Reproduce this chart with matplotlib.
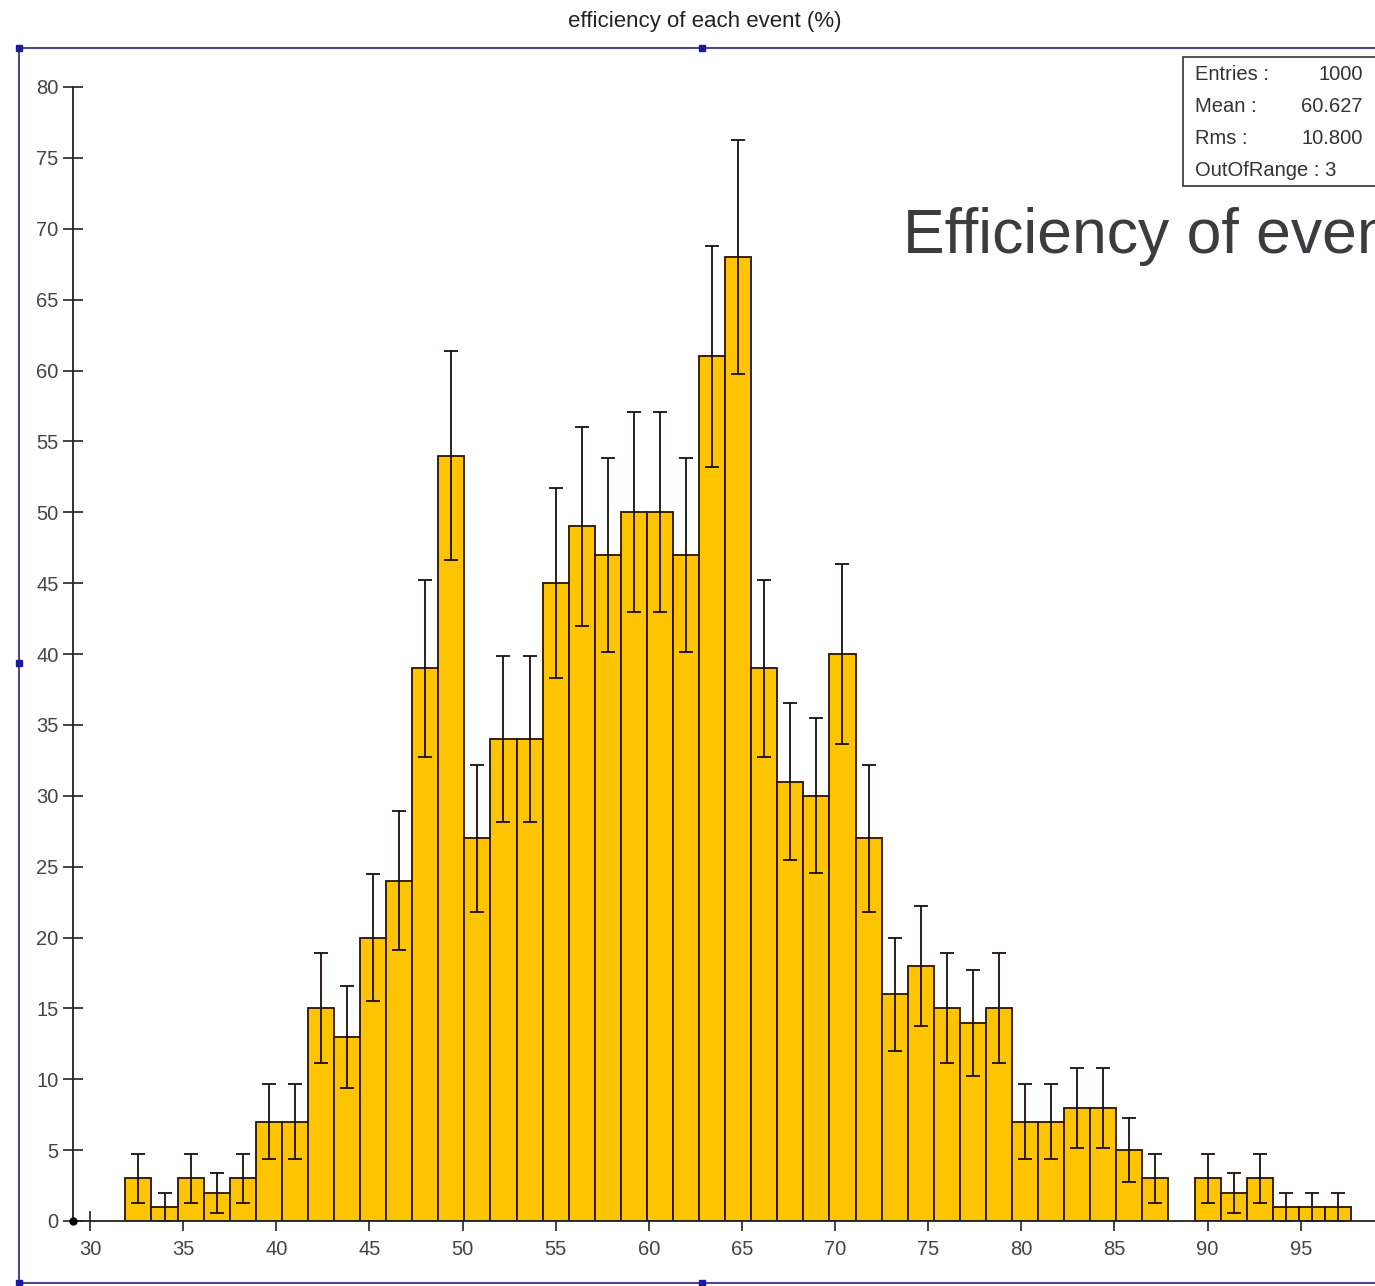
import numpy as np
import matplotlib
matplotlib.use("Agg")
import matplotlib.pyplot as plt
from matplotlib.lines import Line2D
from matplotlib.patches import Rectangle

plt.rcParams["font.family"] = ["Liberation Sans", "DejaVu Sans"]

# histogram contents (bins of 1.4 starting at 31.9)
bin_start = 31.9
bin_width = 1.4
counts = [3, 1, 3, 2, 3, 7, 7, 15, 13, 20, 24, 39, 54, 27, 34, 34, 45, 49,
          47, 50, 50, 47, 61, 68, 39, 31, 30, 40, 27, 16, 18, 15, 14, 15,
          7, 7, 8, 8, 5, 3, 0, 3, 2, 3, 1, 1, 1]
x_ticks = [30, 35, 40, 45, 50, 55, 60, 65, 70, 75, 80, 85, 90, 95]
y_ticks = list(range(0, 85, 5))
stats_names = ["Entries :", "Mean :", "Rms :", "OutOfRange : 3"]
stats_values = ["1000", "60.627", "10.800", ""]

W, H = 1375, 1286
fig = plt.figure(figsize=(W / 100, H / 100), dpi=100)

def fx(px):
    return px / W

def fy(py):
    return 1 - py / H

# axes box: y axis at x=73px, y=0 at 1221px, y=80 at 87px
ax = fig.add_axes([fx(73), fy(1221), fx(W - 73), (1221 - 87) / H])
ax.set_xlim(30 - 17 / 18.626, 30 + (W - 90) / 18.626)
ax.set_ylim(0, 80)
ax.set_axisbelow(True)

counts = np.array(counts)
edges = bin_start + bin_width * np.arange(len(counts) + 1)
left = edges[:-1]
centers = left + bin_width / 2
keep = counts > 0

ax.bar(left[keep], counts[keep], width=bin_width, align="edge",
       color="#FFC400", edgecolor="#2a1200", linewidth=1.3, zorder=3)
ax.errorbar(centers[keep], counts[keep], yerr=np.sqrt(counts[keep]),
            fmt="none", ecolor="#1a0d0d", elinewidth=1.3, capsize=5,
            capthick=1.3, zorder=4)

for s in ["top", "right"]:
    ax.spines[s].set_visible(False)
for s in ["left", "bottom"]:
    ax.spines[s].set_linewidth(1.3)
    ax.spines[s].set_color("#222222")
    ax.spines[s].set_zorder(5)

ax.set_xticks(x_ticks)
ax.set_yticks(y_ticks)
ax.tick_params(direction="inout", length=15, width=1.2, color="#222222",
               labelsize=14.5, labelcolor="#444444")
ax.tick_params(axis="x", pad=6)
ax.tick_params(axis="y", pad=3)
ax.plot([ax.get_xlim()[0]], [0], "o", ms=5, color="black", clip_on=False, zorder=6)

# outer frame with handles
frame_col = "#4a4a8c"
fig.add_artist(Line2D([fx(19), 1], [fy(48), fy(48)], color=frame_col, lw=1.5))
fig.add_artist(Line2D([fx(19), fx(19)], [fy(48), fy(1283)], color=frame_col, lw=1.5))
fig.add_artist(Line2D([fx(19), 1], [fy(1283), fy(1283)], color=frame_col, lw=1.5))
for hx, hy in [(19, 48), (702, 48), (19, 663), (19, 1283), (702, 1283)]:
    fig.add_artist(Line2D([fx(hx)], [fy(hy)], marker="s", ms=5,
                          color="#1a1a9c", linestyle="none"))

fig.text(fx(705), fy(22), "efficiency of each event (%)", ha="center",
         va="center", fontsize=16, color="#222222")

# stats box
fig.add_artist(Rectangle((fx(1183), fy(186)), fx(W - 1183 + 10), (186 - 57) / H,
                         facecolor="white", edgecolor="#333333", lw=1.2,
                         transform=fig.transFigure, zorder=7))
for i, (n, v) in enumerate(zip(stats_names, stats_values)):
    yy = fy(75 + 32 * i)
    fig.text(fx(1195), yy, n, ha="left", va="center", fontsize=14.5,
             color="#333333", zorder=8)
    if v:
        fig.text(fx(1363), yy, v, ha="right", va="center", fontsize=14.5,
                 color="#333333", zorder=8)

fig.text(fx(903), fy(253), "Efficiency of events", ha="left", va="baseline",
         fontsize=45, color="#3c3c40")

fig.savefig("out.png", dpi=100)
